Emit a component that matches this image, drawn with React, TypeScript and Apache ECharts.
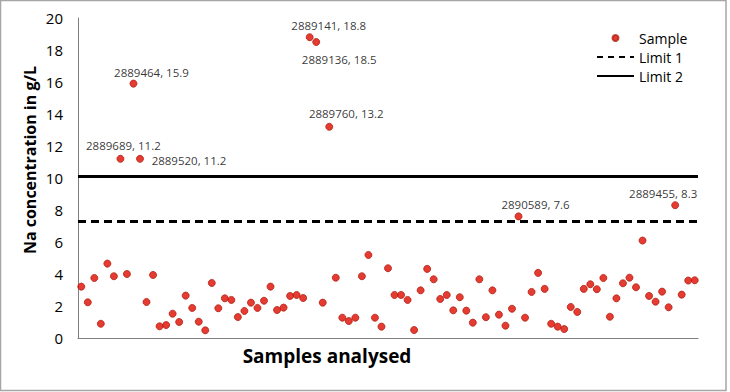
import React, { useEffect, useRef } from "react";
import * as echarts from "echarts";

// ---- data ----
const naValues: number[] = [
  3.21, 2.23, 3.75, 0.89, 4.65, 3.86, 11.2, 4.0, 15.9, 11.2,
  2.25, 3.94, 0.73, 0.81, 1.52, 1.0, 2.65, 1.88, 1.02, 0.48,
  3.44, 1.86, 2.48, 2.38, 1.31, 1.69, 2.21, 1.88, 2.33, 3.21,
  1.75, 1.9, 2.63, 2.69, 2.5, 18.8, 18.5, 2.21, 13.2, 3.77,
  1.27, 1.06, 1.27, 3.86, 5.19, 1.27, 0.71, 4.36, 2.69, 2.69,
  2.38, 0.5, 2.98, 4.32, 3.67, 2.44, 2.69, 1.73, 2.55, 1.71,
  0.96, 3.67, 1.3, 2.98, 1.46, 0.77, 1.83, 7.6, 1.27, 2.88,
  4.07, 3.07, 0.89, 0.71, 0.56, 1.94, 1.63, 3.07, 3.36, 3.05,
  3.75, 1.33, 2.48, 3.42, 3.77, 3.17, 6.09, 2.63, 2.27, 2.9,
  1.92, 8.3, 2.71, 3.59, 3.61,
];
const sampleCategories: string[] = naValues.map((_, i) => String(i + 1));
const labelledIndex: number[] = [6, 9, 8, 35, 36, 38, 67, 91];
const labelledIds: string[] = [
  "2889689", "2889520", "2889464", "2889141", "2889136", "2889760", "2890589", "2889455",
];
const limit1 = 7.3;
const limit2 = 10.1;
const yTicks = { min: 0, max: 20, interval: 2 };

// label placement (style, not data)
const labelOffsets: [number, number][] = [
  [3, -13], [49, 2], [18, -11], [19, -12], [23, 17], [17, -13], [17, -12], [-12, -12],
];

const FONT = "'Open Sans', 'Liberation Sans', sans-serif";

export default function App() {
  const ref = useRef<HTMLDivElement>(null);
  useEffect(() => {
    if (!ref.current) return;
    const chart = echarts.init(ref.current, undefined, { renderer: "svg" });
    const scatterData = naValues.map((v, i) => {
      const k = labelledIndex.indexOf(i);
      if (k < 0) return v;
      return {
        value: v,
        label: {
          show: true,
          position: "inside",
          offset: labelOffsets[k],
          formatter: `${labelledIds[k]}, ${v}`,
          color: "#000",
          fontSize: 11.5,
          fontFamily: FONT,
        },
      };
    });
    chart.setOption({
      animation: false,
      backgroundColor: "#fff",
      grid: { left: 78, right: 32, top: 18, bottom: 54, containLabel: false },
      xAxis: {
        type: "category",
        data: sampleCategories,
        boundaryGap: true,
        axisLine: { show: true, lineStyle: { color: "#7f7f7f", width: 1 } },
        axisTick: { show: false },
        axisLabel: { show: false },
        splitLine: { show: false },
      },
      yAxis: {
        type: "value",
        min: yTicks.min,
        max: yTicks.max,
        interval: yTicks.interval,
        axisLine: { show: true, lineStyle: { color: "#7f7f7f", width: 1 } },
        axisTick: { show: false },
        splitLine: { show: false },
        axisLabel: { color: "#000", fontSize: 15, fontFamily: FONT, margin: 15 },
      },
      legend: {
        orient: "vertical",
        left: 591,
        top: 26,
        itemWidth: 37,
        itemHeight: 6,
        itemGap: 5,
        textStyle: { color: "#000", fontSize: 14, fontFamily: FONT },
        data: [
          { name: "Sample" },
          { name: "Limit 1", itemStyle: { opacity: 0 } },
          { name: "Limit 2", itemStyle: { opacity: 0 } },
        ],
      },
      series: [
        {
          name: "Sample",
          type: "scatter",
          symbol: "circle",
          symbolSize: 7,
          itemStyle: { color: "#e00a00", borderColor: "#b02010", borderWidth: 1 },
          data: scatterData,
          z: 5,
        },
        {
          name: "Limit 1",
          type: "line",
          data: [],
          symbol: "none",
          showSymbol: false,
          color: "#000",
          lineStyle: { color: "#000", width: 3, type: [6, 5] },
          markLine: {
            silent: true,
            symbol: ["none", "none"],
            label: { show: false },
            lineStyle: { color: "#000", width: 3, type: [8, 5] },
            data: [{ yAxis: limit1 }],
          },
        },
        {
          name: "Limit 2",
          type: "line",
          data: [],
          symbol: "none",
          showSymbol: false,
          color: "#000",
          lineStyle: { color: "#000", width: 3, type: "solid" },
          markLine: {
            silent: true,
            symbol: ["none", "none"],
            label: { show: false },
            lineStyle: { color: "#000", width: 3, type: "solid" },
            data: [{ yAxis: limit2 }],
          },
        },
      ],
      graphic: [
        {
          type: "rect",
          shape: { x: 0.5, y: 0.5, width: 725.5, height: 390 },
          style: { fill: "none", stroke: "#a6a6a6", lineWidth: 1.5 },
          silent: true,
        },
        {
          type: "text",
          x: 30,
          y: 160,
          rotation: Math.PI / 2,
          style: {
            text: "Na concentration in g/L",
            fontSize: 16,
            fontWeight: "bold",
            fontFamily: FONT,
            fill: "#000",
            textAlign: "center",
            textVerticalAlign: "middle",
          },
        },
        {
          type: "text",
          x: 327,
          y: 356,
          style: {
            text: "Samples analysed",
            fontSize: 19,
            fontWeight: "bold",
            fontFamily: FONT,
            fill: "#000",
            textAlign: "center",
            textVerticalAlign: "middle",
          },
        },
      ],
    });
    return () => chart.dispose();
  }, []);
  return (
    <div
      ref={ref}
      style={{ position: "absolute", left: 0, top: 0, width: 730, height: 392, background: "#fff" }}
    />
  );
}
